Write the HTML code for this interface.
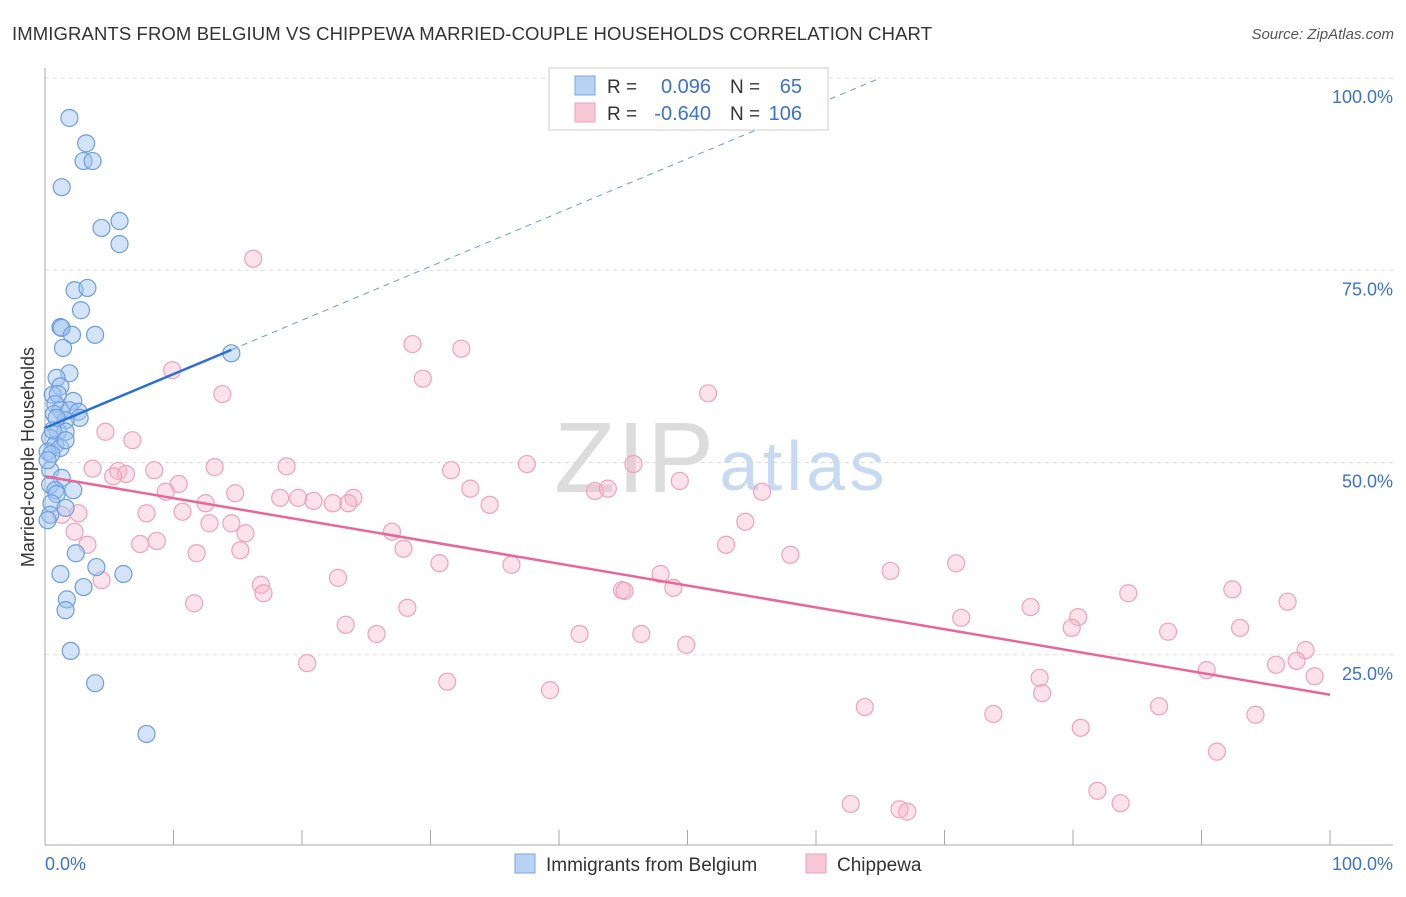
<!DOCTYPE html>
<html><head><meta charset="utf-8"><style>
body{margin:0;background:#fff;font-family:"Liberation Sans",sans-serif;}
svg text{font-family:"Liberation Sans",sans-serif;}
</style></head><body>
<svg id="chart" width="1406" height="892" xmlns="http://www.w3.org/2000/svg">
<text x="12" y="40" font-size="18.5" fill="#333" textLength="920">IMMIGRANTS FROM BELGIUM VS CHIPPEWA MARRIED-COUPLE HOUSEHOLDS CORRELATION CHART</text>
<text x="1394" y="39" font-size="15" fill="#555" font-style="italic" text-anchor="end">Source: ZipAtlas.com</text>
<text transform="translate(34,457) rotate(-90)" font-size="18" fill="#333" text-anchor="middle">Married-couple Households</text>
<g id="grid"></g>
<g>
<text x="634" y="492" font-size="100" fill="#dcdcdc" font-family="Liberation Serif" text-anchor="middle" textLength="160">ZIP</text>
<text x="802" y="490" font-size="70" fill="#c8daf2" text-anchor="middle" textLength="165">atlas</text>
</g>
<g id="marks"></g>
<g id="lines"></g>
<g>
<rect x="549" y="68" width="279" height="62" fill="#fff" stroke="#ccc"/>
<rect x="575" y="76" width="20" height="19" fill="#b8d2f4" stroke="#7aa6e4"/>
<rect x="575" y="103" width="20" height="19" fill="#f9c8d6" stroke="#f0a0b8"/>
<text x="607" y="93" font-size="19" fill="#333">R =</text>
<text x="711" y="93" font-size="20" fill="#3a72d0" text-anchor="end">0.096</text>
<text x="730" y="93" font-size="19" fill="#333">N =</text>
<text x="802" y="93" font-size="20" fill="#3a72d0" text-anchor="end">65</text>
<text x="607" y="120" font-size="19" fill="#333">R =</text>
<text x="711" y="120" font-size="20" fill="#3a72d0" text-anchor="end">-0.640</text>
<text x="730" y="120" font-size="19" fill="#333">N =</text>
<text x="802" y="120" font-size="20" fill="#3a72d0" text-anchor="end">106</text>
</g>
<g>
<rect x="515" y="854" width="20" height="19" fill="#b8d2f4" stroke="#7aa6e4"/>
<text x="546" y="871" font-size="19" fill="#333">Immigrants from Belgium</text>
<rect x="806" y="854" width="20" height="19" fill="#f9c8d6" stroke="#f0a0b8"/>
<text x="837" y="871" font-size="19" fill="#333">Chippewa</text>
</g>
</svg>
<script>
const yTicks=[25,50,75,100];
const xTickLabels=["0.0%","100.0%"];
const blueX=[1.9,3.2,3.0,3.7,1.3,4.4,5.8,5.8,2.3,3.3,2.8,1.2,1.3,2.1,3.9,1.4,1.9,0.9,1.2,0.6,1.0,2.2,0.8,1.2,1.9,2.6,2.7,0.7,1.6,1.0,1.6,0.4,0.8,1.2,0.2,0.5,0.4,1.3,0.4,0.8,0.9,2.2,0.5,1.6,0.4,0.2,2.4,4.0,1.2,6.1,3.0,1.7,1.6,2.0,3.9,7.9,14.5,0.2,0.6,0.9,1.6];
const blueY=[94.8,91.5,89.2,89.2,85.8,80.5,81.4,78.4,72.4,72.7,69.8,67.6,67.5,66.6,66.6,64.9,61.6,61.0,59.9,58.8,58.9,58.0,57.6,56.8,56.8,56.6,55.8,56.3,55.5,54.0,54.0,53.2,52.3,51.9,51.4,51.1,49.0,48.0,47.1,46.4,45.9,46.4,44.7,44.1,43.2,42.5,38.2,36.4,35.5,35.5,33.8,32.2,30.8,25.5,21.3,14.7,64.2,50.3,54.2,55.8,52.9];
const pinkX=[16.2,28.6,32.4,9.9,29.4,51.6,13.8,6.8,4.7,37.5,18.8,3.7,13.2,8.5,5.7,6.3,31.6,45.8,5.3,10.4,49.4,33.1,9.4,14.8,18.3,19.7,20.9,12.5,22.4,24.0,23.6,55.8,42.8,43.8,34.6,2.6,7.9,10.7,1.3,12.8,14.5,54.5,15.6,27.0,2.3,3.3,7.4,8.7,27.9,53.0,11.8,15.2,58.0,4.4,30.7,36.3,22.8,47.9,16.8,17.0,70.9,65.8,48.9,44.9,45.1,11.6,28.2,76.7,84.3,92.4,96.7,23.4,25.8,41.6,46.4,71.3,80.4,79.9,87.4,93.0,49.9,20.4,98.1,95.8,97.4,90.4,98.8,31.3,39.3,77.4,77.6,63.8,73.8,86.7,94.2,80.6,91.2,62.7,81.9,83.7,66.5,67.1];
const pinkY=[76.5,65.4,64.8,62.0,60.9,59.0,58.9,52.9,54.0,49.8,49.5,49.2,49.4,49.0,48.9,48.5,49.0,49.8,48.2,47.2,47.6,46.6,46.2,46.0,45.4,45.4,45.0,44.7,44.7,45.4,44.7,46.2,46.3,46.6,44.5,43.4,43.4,43.6,43.2,42.1,42.1,42.3,40.8,41.0,41.0,39.3,39.4,39.8,38.8,39.3,38.2,38.6,38.0,34.7,36.9,36.7,35.0,35.5,34.1,33.0,36.9,35.9,33.7,33.4,33.3,31.7,31.1,31.2,33.0,33.5,31.9,28.9,27.7,27.7,27.7,29.8,29.9,28.5,28.0,28.5,26.3,23.9,25.6,23.7,24.2,23.0,22.2,21.5,20.4,22.0,20.0,18.2,17.3,18.3,17.2,15.5,12.4,5.6,7.3,5.7,4.9,4.6];
const blueTrend=[54.5,0.70];
const pinkTrend=[48.2,-0.284];
const NS="http://www.w3.org/2000/svg";
const X0=45,X1=1330,Y0=847,Y100=78;
function sx(v){return X0+(X1-X0)*v/100;}
function sy(v){return Y0-(Y0-Y100)*v/100;}
function mk(tag,attrs,parent){const e=document.createElementNS(NS,tag);for(const k in attrs)e.setAttribute(k,attrs[k]);parent.appendChild(e);return e;}
const grid=document.getElementById('grid');
yTicks.forEach(t=>{
  const l=mk('line',{x1:X0,x2:1393,y1:sy(t),y2:sy(t),stroke:'#ddd','stroke-dasharray':'4,4'},grid);
  
  
  const tx=mk('text',{x:1393,y:sy(t)+25,'font-size':18,fill:'#3a72d0','text-anchor':'end'},grid);
  tx.textContent=t.toFixed(1)+'%';
  
  
});
const ax=mk('line',{x1:X0,x2:1393,y1:845,y2:845,stroke:'#aaa'},grid);


const ay=mk('line',{x1:X0,x2:X0,y1:68,y2:845,stroke:'#aaa'},grid);


for(let i=0;i<=10;i++){
  const tk=mk('line',{x1:sx(i*10),x2:sx(i*10),y1:830,y2:845,stroke:'#aaa'},grid);
  
  
}
const xl0=mk('text',{x:45,y:870,'font-size':18,fill:'#3a72d0'},grid);xl0.textContent=xTickLabels[0];


const xl1=mk('text',{x:1393,y:870,'font-size':18,fill:'#3a72d0','text-anchor':'end'},grid);xl1.textContent=xTickLabels[1];


const marks=document.getElementById('marks');
pinkX.forEach((x,i)=>{
  const c=mk('circle',{cx:sx(x),cy:sy(pinkY[i]),r:8.5,fill:'rgba(248,182,202,0.4)',stroke:'#f0a2ba','stroke-width':1.2},marks);
  
  
});
blueX.forEach((x,i)=>{
  const c=mk('circle',{cx:sx(x),cy:sy(blueY[i]),r:8.5,fill:'rgba(160,196,240,0.45)',stroke:'#6d9de0','stroke-width':1.2},marks);
  
  
});
const lines=document.getElementById('lines');
const bEnd=Math.max(...blueX);
const bs=mk('line',{x1:sx(0),y1:sy(blueTrend[0]),x2:sx(bEnd),y2:sy(blueTrend[0]+blueTrend[1]*bEnd),stroke:'#2a6fd6','stroke-width':2.5},lines);


const xe=(100-blueTrend[0])/blueTrend[1];
const bd=mk('line',{x1:sx(bEnd),y1:sy(blueTrend[0]+blueTrend[1]*bEnd),x2:sx(xe),y2:sy(100),stroke:'#6a9be0','stroke-width':1,'stroke-dasharray':'6,5'},lines);


const ps=mk('line',{x1:sx(0),y1:sy(pinkTrend[0]),x2:sx(100),y2:sy(pinkTrend[0]+pinkTrend[1]*100),stroke:'#e8669a','stroke-width':2.5},lines);


</script>
</body></html>
